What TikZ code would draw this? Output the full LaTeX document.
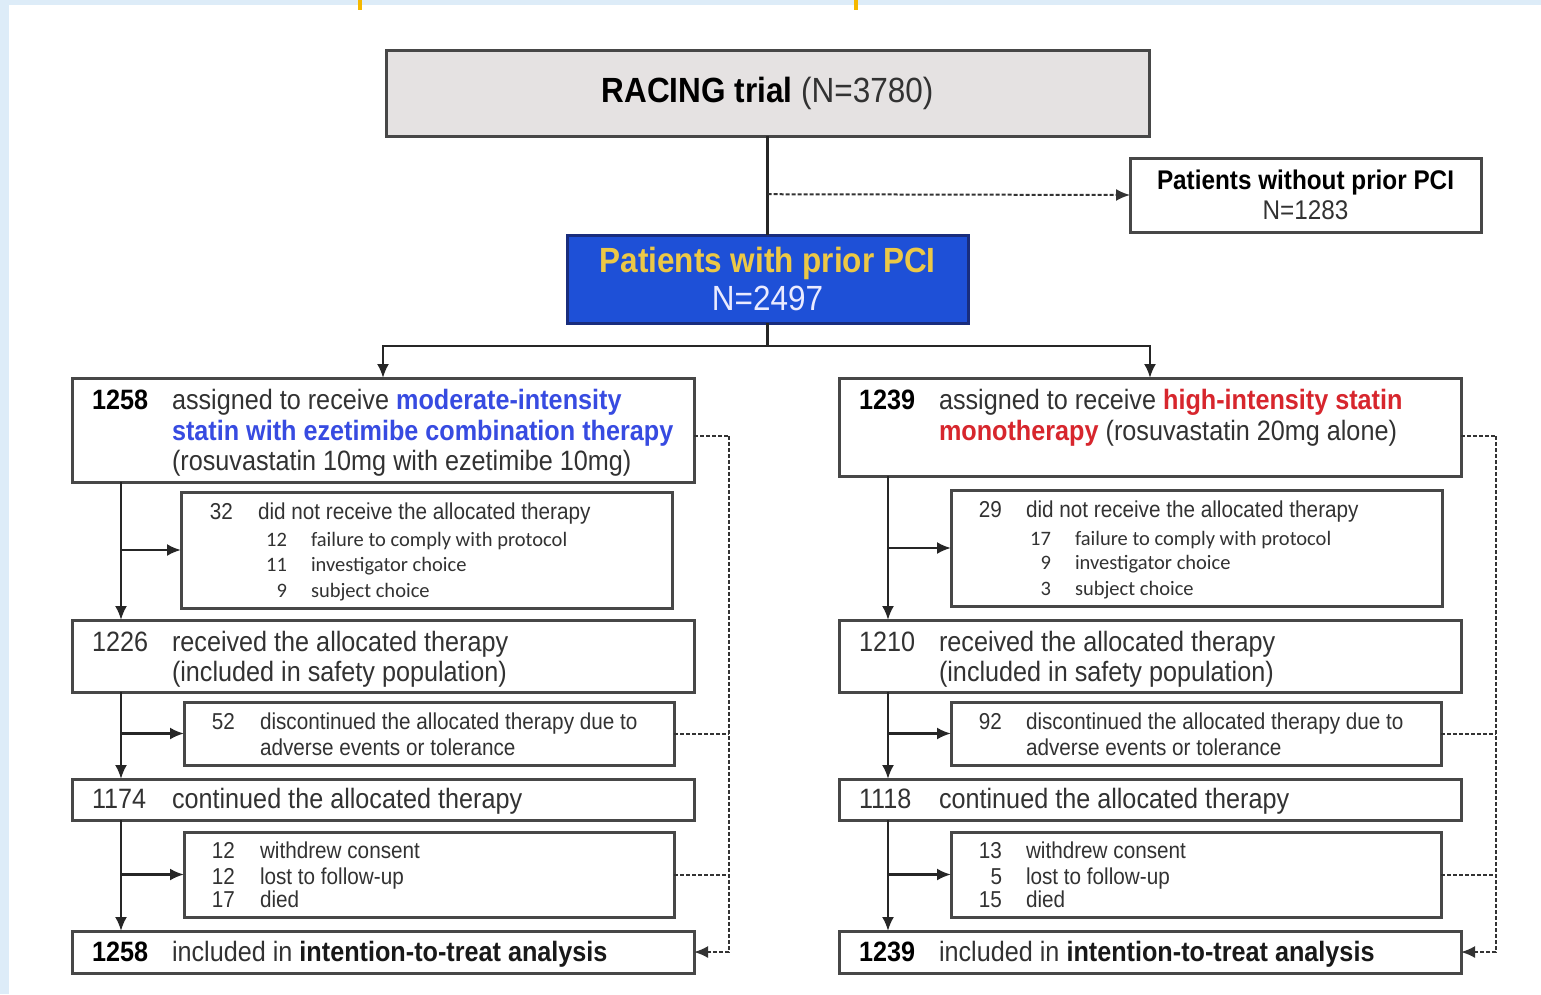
\documentclass[tikz,border=0pt]{standalone}
\usepackage{fontspec}
\setmainfont{Liberation Sans}[FakeStretch=0.9]
\newfontfamily\calfont{Carlito}
\usetikzlibrary{arrows.meta,calc}
\definecolor{bgblue}{RGB}{221,236,248}
\definecolor{orangemark}{RGB}{245,184,0}
\definecolor{boxgrey}{RGB}{229,226,226}
\definecolor{pciblue}{RGB}{30,80,215}
\definecolor{pciedge}{RGB}{25,45,125}
\definecolor{gold}{RGB}{236,200,70}
\definecolor{txtblue}{RGB}{55,75,225}
\definecolor{txtred}{RGB}{215,38,45}
\definecolor{txtgrey}{RGB}{50,50,50}
\newcommand\ftitle{\fontsize{35}{38}\selectfont}
\newcommand\fmain{\fontsize{28}{30}\selectfont}
\newcommand\fside{\fontsize{27}{30}\selectfont}
\newcommand\fsubb{\fontsize{23}{26}\selectfont}
\newcommand\fitem{\calfont\fontsize{20.5}{25}\selectfont}
\tikzset{
  box/.style={draw=black!72, line width=3pt, fill=white, inner sep=0pt, outer sep=0pt, rectangle},
  txt/.style={anchor=base west, inner sep=0pt, outer sep=0pt, text=txtgrey},
  num/.style={anchor=base east, inner sep=0pt, outer sep=0pt, text=txtgrey},
  conn/.style={line width=2.4pt, draw=black!85},
  arr/.style={conn, -{Latex[length=14pt,width=12pt]}},
  dsh/.style={line width=2pt, dash pattern=on 4pt off 2pt, draw=black!80},
  darr/.style={dsh, -{Latex[length=14pt,width=12pt]}}
}
\begin{document}
\begin{tikzpicture}[x=1pt,y=-1pt]
\useasboundingbox (0,0) rectangle (1541,994);
% background
\fill[bgblue] (0,0) rectangle (1541,994);
\fill[white] (9,5) rectangle (1541,994);
\fill[orangemark] (358,0) rectangle (362,10);
\fill[orangemark] (854,0) rectangle (858,10);

% top part
\node[box, fill=boxgrey, minimum width=763pt, minimum height=86pt, font=\ftitle] (rac) at (767.5,93)
  {\color{black}\bfseries RACING trial \mdseries\color{txtgrey}(N=3780)};
\node[box, minimum width=351pt, minimum height=74pt, align=center, font=\fside] (nopci) at (1305.5,195)
  {\textcolor{black}{\bfseries Patients without prior PCI}\\\textcolor{txtgrey}{N=1283}};
\node[box, draw=pciedge, fill=pciblue, minimum width=401pt, minimum height=88pt, align=center, font=\ftitle] (pci) at (767.5,279)
  {\textcolor{gold}{\bfseries Patients with prior PCI}\\\textcolor{white!92!blue}{N=2497}};

\draw[conn] (rac.south) -- (pci.north);
\coordinate (split) at ($(rac.south)!0.588!(pci.north)$);
\draw[darr] (split) -- (nopci.west);

% left column boxes
\node[box, minimum width=622pt, minimum height=104pt] (a1) at (383,430) {};
\node[box, minimum width=491pt, minimum height=116pt] (a2) at (426.5,550) {};
\node[box, minimum width=622pt, minimum height=72pt] (a3) at (383,656) {};
\node[box, minimum width=490pt, minimum height=63pt] (a4) at (429,733.5) {};
\node[box, minimum width=622pt, minimum height=41pt] (a5) at (383,799.5) {};
\node[box, minimum width=490pt, minimum height=85pt] (a6) at (429,874.5) {};
\node[box, minimum width=622pt, minimum height=42pt] (a7) at (383,952) {};

% right column boxes
\node[box, minimum width=622pt, minimum height=98pt] (b1) at (1150,427) {};
\node[box, minimum width=491pt, minimum height=116pt] (b2) at (1196.5,548) {};
\node[box, minimum width=622pt, minimum height=72pt] (b3) at (1150,656) {};
\node[box, minimum width=490pt, minimum height=63pt] (b4) at (1196,733.5) {};
\node[box, minimum width=622pt, minimum height=41pt] (b5) at (1150,799.5) {};
\node[box, minimum width=490pt, minimum height=85pt] (b6) at (1196,874.5) {};
\node[box, minimum width=622pt, minimum height=42pt] (b7) at (1150,952) {};

% split to two arms
\coordinate (junc) at ($(pci.south)+(0,23)$);
\draw[conn] (pci.south) -- (junc);
\draw[arr] (junc) -| (a1.north);
\draw[arr] (junc) -| (b1.north);

% left trunk
\coordinate (la) at ($(a1.south west)+(49,0)$);
\draw[arr] (la) -- (la |- a3.north);
\draw[arr] (la |- a2.west) -- (a2.west);
\coordinate (lb) at ($(a3.south west)+(49,0)$);
\draw[arr] (lb) -- (lb |- a5.north);
\draw[arr] (lb |- a4.west) -- (a4.west);
\coordinate (lc) at ($(a5.south west)+(49,0)$);
\draw[arr] (lc) -- (lc |- a7.north);
\draw[arr] (lc |- a6.west) -- (a6.west);

% right trunk
\coordinate (ra) at ($(b1.south west)+(49,0)$);
\draw[arr] (ra) -- (ra |- b3.north);
\draw[arr] (ra |- b2.west) -- (b2.west);
\coordinate (rb) at ($(b3.south west)+(49,0)$);
\draw[arr] (rb) -- (rb |- b5.north);
\draw[arr] (rb |- b4.west) -- (b4.west);
\coordinate (rc) at ($(b5.south west)+(49,0)$);
\draw[arr] (rc) -- (rc |- b7.north);
\draw[arr] (rc |- b6.west) -- (b6.west);

% dashed returns
\coordinate (ld) at ($(a1.east)+(35,6)$);
\draw[dsh] ($(a1.east)+(0,6)$) -- (ld);
\draw[darr] (ld) |- (a7.east);
\draw[dsh] (a4.east) -- (a4.east -| ld);
\draw[dsh] (a6.east) -- (a6.east -| ld);
\coordinate (rd) at ($(b1.east)+(35,9)$);
\draw[dsh] ($(b1.east)+(0,9)$) -- (rd);
\draw[darr] (rd) |- (b7.east);
\draw[dsh] (b4.east) -- (b4.east -| rd);
\draw[dsh] (b6.east) -- (b6.east -| rd);

% ---------- left texts
\node[txt, text=black, font=\fmain\bfseries] (a1n) at (92,409) {1258};
\node[txt, font=\fmain] (a1t1) at (172,409) {assigned to receive {\bfseries\color{txtblue}moderate-intensity}};
\node[txt, text=txtblue, font=\fmain\bfseries] (a1t2) at (172,440) {statin with ezetimibe combination therapy};
\node[txt, font=\fmain] (a1t3) at (172,470) {(rosuvastatin 10mg with ezetimibe 10mg)};

\node[num, font=\fsubb] (a2n) at (233,519) {32};
\node[txt, font=\fsubb] (a2t) at (258,519) {did not receive the allocated therapy};
\node[num, font=\fitem] (a2n1) at (287,546) {12};
\node[txt, font=\fitem] (a2t1) at (311,546) {failure to comply with protocol};
\node[num, font=\fitem] (a2n2) at (287,571) {11};
\node[txt, font=\fitem] (a2t2) at (311,571) {investigator choice};
\node[num, font=\fitem] (a2n3) at (287,597) {9};
\node[txt, font=\fitem] (a2t3) at (311,597) {subject choice};

\node[txt, font=\fmain] (a3n) at (92,651) {1226};
\node[txt, font=\fmain] (a3t1) at (172,651) {received the allocated therapy};
\node[txt, font=\fmain] (a3t2) at (172,681) {(included in safety population)};

\node[num, font=\fsubb] (a4n) at (235,729) {52};
\node[txt, font=\fsubb] (a4t1) at (260,729) {discontinued the allocated therapy due to};
\node[txt, font=\fsubb] (a4t2) at (260,755) {adverse events or tolerance};

\node[txt, font=\fmain] (a5n) at (92,808) {1174};
\node[txt, font=\fmain] (a5t) at (172,808) {continued the allocated therapy};

\node[num, font=\fsubb] (a6n1) at (235,858) {12};
\node[txt, font=\fsubb] (a6t1) at (260,858) {withdrew consent};
\node[num, font=\fsubb] (a6n2) at (235,884) {12};
\node[txt, font=\fsubb] (a6t2) at (260,884) {lost to follow-up};
\node[num, font=\fsubb] (a6n3) at (235,907) {17};
\node[txt, font=\fsubb] (a6t3) at (260,907) {died};

\node[txt, text=black, font=\fmain\bfseries] (a7n) at (92,961) {1258};
\node[txt, font=\fmain] (a7t) at (172,961) {included in {\bfseries\color{black!90}intention-to-treat analysis}};

% ---------- right texts
\node[txt, text=black, font=\fmain\bfseries] (b1n) at (859,409) {1239};
\node[txt, font=\fmain] (b1t1) at (939,409) {assigned to receive {\bfseries\color{txtred}high-intensity statin}};
\node[txt, font=\fmain] (b1t2) at (939,440) {{\bfseries\color{txtred}monotherapy} (rosuvastatin 20mg alone)};

\node[num, font=\fsubb] (b2n) at (1002,517) {29};
\node[txt, font=\fsubb] (b2t) at (1026,517) {did not receive the allocated therapy};
\node[num, font=\fitem] (b2n1) at (1051,545) {17};
\node[txt, font=\fitem] (b2t1) at (1075,545) {failure to comply with protocol};
\node[num, font=\fitem] (b2n2) at (1051,569) {9};
\node[txt, font=\fitem] (b2t2) at (1075,569) {investigator choice};
\node[num, font=\fitem] (b2n3) at (1051,595) {3};
\node[txt, font=\fitem] (b2t3) at (1075,595) {subject choice};

\node[txt, font=\fmain] (b3n) at (859,651) {1210};
\node[txt, font=\fmain] (b3t1) at (939,651) {received the allocated therapy};
\node[txt, font=\fmain] (b3t2) at (939,681) {(included in safety population)};

\node[num, font=\fsubb] (b4n) at (1002,729) {92};
\node[txt, font=\fsubb] (b4t1) at (1026,729) {discontinued the allocated therapy due to};
\node[txt, font=\fsubb] (b4t2) at (1026,755) {adverse events or tolerance};

\node[txt, font=\fmain] (b5n) at (859,808) {1118};
\node[txt, font=\fmain] (b5t) at (939,808) {continued the allocated therapy};

\node[num, font=\fsubb] (b6n1) at (1002,858) {13};
\node[txt, font=\fsubb] (b6t1) at (1026,858) {withdrew consent};
\node[num, font=\fsubb] (b6n2) at (1002,884) {5};
\node[txt, font=\fsubb] (b6t2) at (1026,884) {lost to follow-up};
\node[num, font=\fsubb] (b6n3) at (1002,907) {15};
\node[txt, font=\fsubb] (b6t3) at (1026,907) {died};

\node[txt, text=black, font=\fmain\bfseries] (b7n) at (859,961) {1239};
\node[txt, font=\fmain] (b7t) at (939,961) {included in {\bfseries\color{black!90}intention-to-treat analysis}};
\end{tikzpicture}
\end{document}
